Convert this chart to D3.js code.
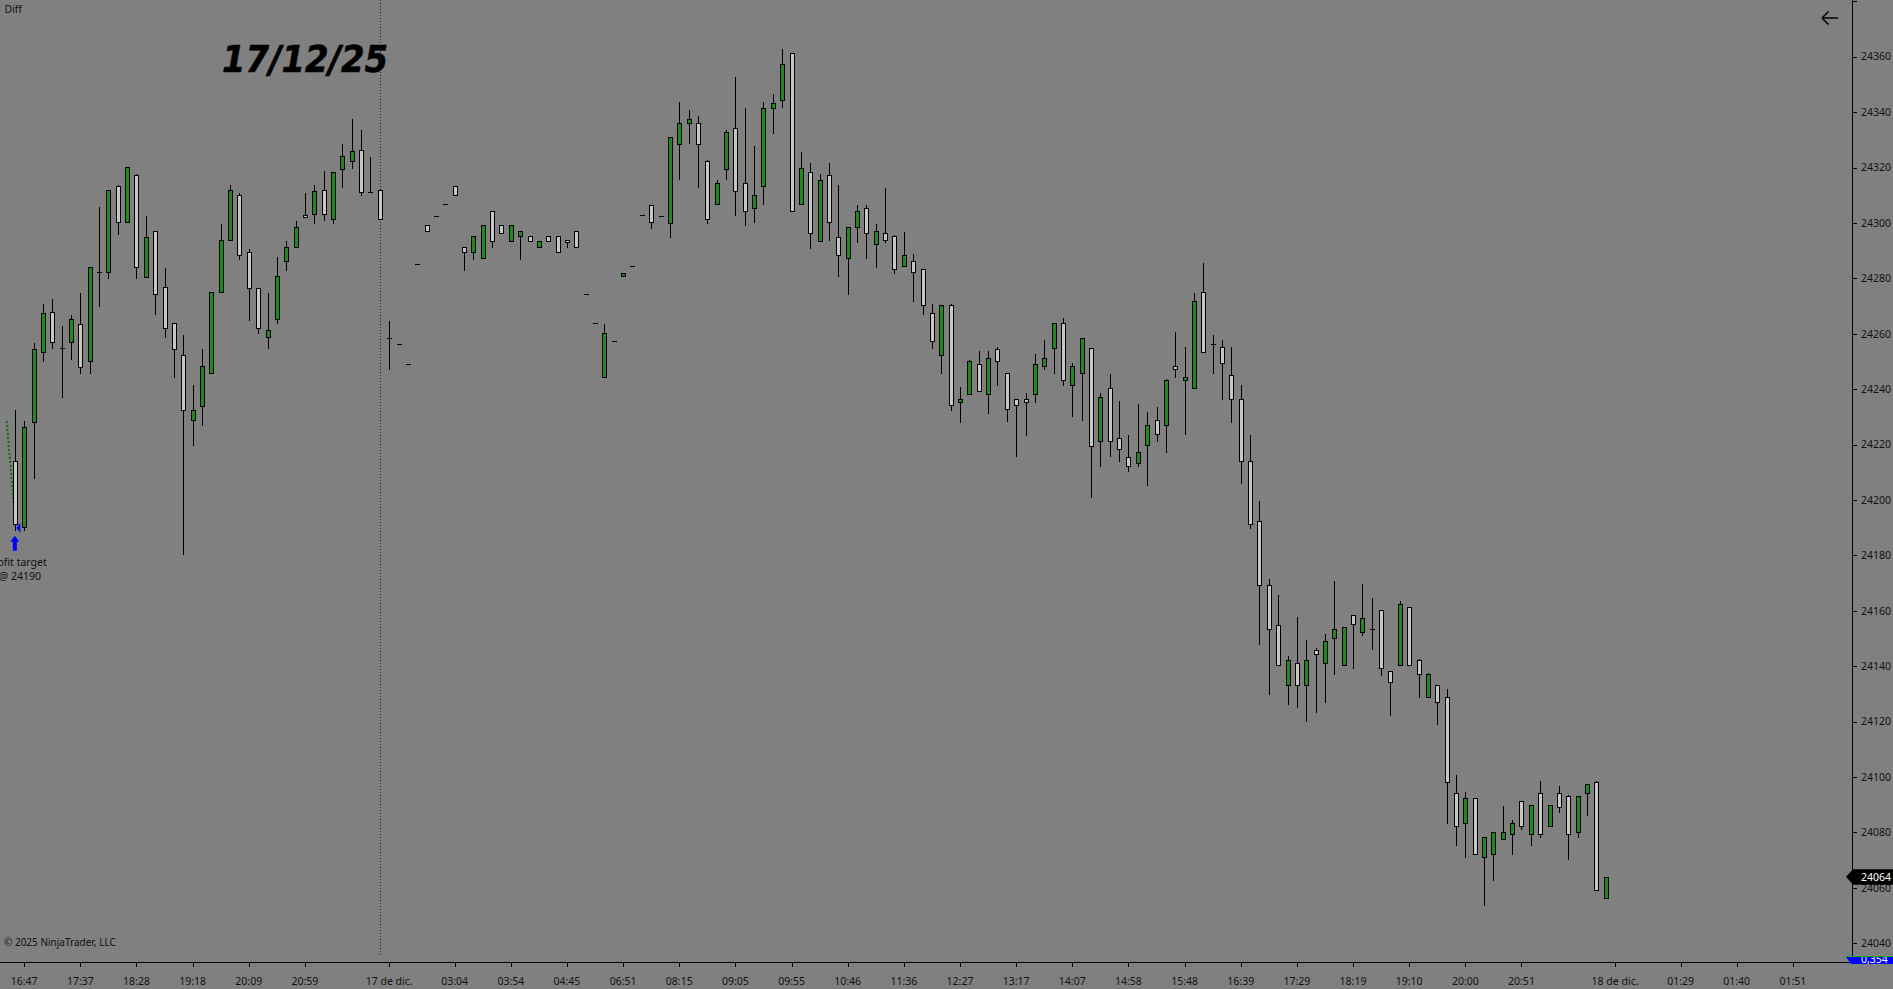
<!DOCTYPE html>
<html>
<head>
<meta charset="utf-8">
<script src="https://cdn.jsdelivr.net/npm/d3@7"></script>
<style>
html, body { margin: 0; padding: 0; background: #808080; overflow: hidden; }
svg { display: block; font-family: "Noto Sans", "Open Sans", sans-serif; }
</style>
</head>
<body>
<svg id="chart"></svg>
<script>
var width = 1893;
var height = 989;

// bar data, one entry per bar (index 0 = first bar on screen)
var opens = [
    24214.25, 24190.25, 24228.25, 24253.25, 24268, 24255, 24257, 24263.5, 24250, 24282.25,
    24282.25, 24313.25, 24300.25, 24317.25, 24280.5, 24297.25, 24277, 24264, 24252.25, 24229,
    24234, 24246, 24275.25, 24294, 24310.25, 24289.5, 24276.5, 24259, 24265.25, 24286.25,
    24291.25, 24303, 24303.25, 24312, 24301.25, 24319.5, 24322.25, 24326.25, 24311.25, 24312,
    24258.5, 24256.25, 24249.25, 24285, 24299.25, 24302.5, 24307, 24313.25, 24291.25, 24289.5,
    24287.25, 24304.25, 24299.25, 24293.5, 24295.25, 24295.25, 24291.25, 24295.25, 24295.25, 24294,
    24297.25, 24274.25, 24264, 24244.25, 24257.25, 24281, 24284.5, 24303, 24306.5, 24302.5,
    24300, 24328.5, 24336.25, 24336.25, 24322.25, 24307, 24319.5, 24334.25, 24314.25, 24305.25,
    24313.25, 24341.5, 24344.25, 24361.25, 24307, 24318.25, 24293.5, 24317.25, 24295, 24287.25,
    24298.5, 24305.25, 24292.25, 24296.25, 24295.25, 24284.5, 24286.25, 24283.25, 24267.5, 24252.25,
    24270.25, 24235.25, 24238.25, 24249.25, 24238.25, 24254.5, 24246, 24236.5, 24236.5, 24238.25,
    24248.25, 24255, 24264, 24241.5, 24246, 24255, 24221.25, 24240.25, 24222.25, 24215.5,
    24213.25, 24220, 24229, 24227.25, 24248.25, 24243.25, 24240.25, 24275.25, 24256.25, 24255.25,
    24245.25, 24236.5, 24214.25, 24192.25, 24169.25, 24155, 24133.25, 24141, 24133.25, 24146,
    24141, 24150.25, 24140.5, 24158.5, 24152.25, 24153.5, 24160.25, 24138.25, 24140.5, 24161.25,
    24142.25, 24129, 24133.25, 24129, 24094.25, 24083.5, 24092.5, 24071.25, 24072.25, 24077.5,
    24079.5, 24091.25, 24079.5, 24094.25, 24082.5, 24094.25, 24093, 24080, 24094.25, 24098.25,
    24056.5
];
var highs = [
    24233, 24228.75, 24257, 24271, 24273, 24263.25, 24267, 24275, 24284.25, 24306,
    24312, 24314, 24320.25, 24318, 24303, 24297.25, 24284, 24264, 24260, 24242,
    24255, 24275.25, 24300, 24314, 24311, 24291, 24276.5, 24275, 24288, 24293.75,
    24301, 24311, 24314, 24319, 24318.25, 24328.75, 24337.75, 24334, 24324, 24312.5,
    24265, 24256.25, 24249.25, 24285, 24299.25, 24302.5, 24307, 24313.25, 24291.25, 24295.25,
    24299.25, 24304.25, 24299.25, 24299.25, 24297.25, 24295.25, 24293.5, 24295.25, 24295.25, 24294,
    24297.25, 24274.25, 24264, 24263.75, 24257.25, 24282, 24284.5, 24303, 24306.75, 24302.5,
    24331, 24344, 24341, 24339, 24323.25, 24315.75, 24333.75, 24353, 24341.75, 24328,
    24344, 24347, 24363, 24361.75, 24326, 24322, 24318, 24322, 24314, 24298.5,
    24306.75, 24306.75, 24300, 24313, 24296, 24297, 24289.25, 24283.25, 24271, 24270.25,
    24271, 24241, 24250.75, 24254, 24254, 24255.75, 24246, 24236.5, 24239, 24253,
    24258, 24264, 24266, 24249.75, 24258.5, 24255, 24239, 24245.75, 24236, 24223.75,
    24235, 24232, 24233.75, 24244, 24261, 24255.75, 24275, 24285.75, 24259.75, 24258,
    24255.75, 24241.75, 24224, 24200, 24171.75, 24166, 24144, 24158, 24149.75, 24147,
    24152, 24171, 24154.5, 24158.5, 24170, 24165, 24160.25, 24138.25, 24164, 24161.25,
    24143, 24138, 24133.25, 24132.25, 24101.25, 24095, 24092.5, 24078.25, 24080, 24089.75,
    24085, 24091.25, 24090, 24099, 24090, 24097, 24094, 24093, 24098, 24099,
    24064
];
var lows = [
    24189.25, 24189, 24208, 24250, 24255, 24237, 24251, 24246, 24246, 24270,
    24280.25, 24296, 24300.25, 24280.25, 24280.5, 24267.25, 24259, 24244.25, 24180.5, 24220,
    24227, 24246, 24275.25, 24294, 24287, 24265, 24260.25, 24255, 24264, 24283,
    24291.25, 24302.25, 24300, 24301, 24300, 24313, 24320, 24310, 24311.25, 24301.25,
    24247.25, 24256.25, 24249.25, 24285, 24297.25, 24302.5, 24307, 24310.25, 24283, 24287,
    24287.25, 24291.25, 24296.25, 24293.5, 24287, 24293.5, 24291.25, 24293.5, 24289.5, 24291.25,
    24291.25, 24274.25, 24264, 24244.25, 24257.25, 24281, 24284.5, 24303, 24298.25, 24302.5,
    24295, 24316, 24329, 24313, 24300, 24307, 24316, 24303, 24299.25, 24300.25,
    24307, 24332.5, 24342, 24304.25, 24307, 24291, 24293.5, 24294, 24281, 24274.25,
    24293.25, 24287.25, 24284.25, 24293.25, 24282, 24284.5, 24272, 24267.25, 24255, 24246,
    24232.5, 24228.25, 24238.25, 24239.25, 24231.25, 24241.5, 24228.5, 24216, 24223.5, 24235.25,
    24247.25, 24246, 24241.5, 24230.25, 24229, 24201.25, 24212.25, 24216, 24214.25, 24210.5,
    24212.25, 24205.25, 24221.25, 24217.25, 24244.25, 24224, 24240.25, 24253.25, 24246, 24236.5,
    24228.25, 24206.25, 24190, 24148, 24130, 24140.5, 24126.25, 24125.25, 24120.25, 24123.5,
    24127.25, 24137.25, 24140.5, 24139.5, 24151.25, 24146.25, 24137, 24122.25, 24140.5, 24140.5,
    24129, 24129, 24119, 24083.25, 24075.5, 24071.25, 24072.25, 24054, 24063, 24077.5,
    24072.25, 24081.25, 24075.5, 24078.25, 24082.5, 24087.25, 24070.5, 24078.25, 24086.25, 24059.25,
    24056.5
];
var closes = [
    24191.25, 24226.5, 24254.5, 24267.5, 24257, 24255, 24265.25, 24248, 24284.25, 24282.25,
    24312, 24300.25, 24320.25, 24284.25, 24295, 24274.25, 24262.25, 24254.5, 24232.5, 24232.5,
    24248.25, 24275.25, 24294, 24312, 24288.25, 24276.5, 24262.25, 24261.25, 24281, 24291.25,
    24298.5, 24302.25, 24311.5, 24303.25, 24318.25, 24324.25, 24326, 24311.25, 24311.25, 24301.25,
    24258.5, 24256.25, 24249.25, 24285, 24297.25, 24302.5, 24307, 24310.25, 24289.5, 24295.25,
    24299.25, 24293.5, 24296.25, 24299.25, 24297.25, 24293.5, 24293.5, 24293.5, 24289.5, 24293.25,
    24291.25, 24274.25, 24264, 24260.25, 24257.25, 24282, 24284.5, 24303, 24300.25, 24302.5,
    24331, 24336.25, 24337.5, 24328.5, 24301.25, 24314.25, 24333, 24311.5, 24304.25, 24310.25,
    24341.5, 24343.25, 24357.5, 24304.25, 24320, 24296.25, 24315.5, 24300.25, 24288.25, 24298.5,
    24304.25, 24296.25, 24297.25, 24294, 24283.25, 24288.25, 24282.25, 24270.25, 24257.25, 24270.25,
    24234.25, 24236.5, 24250, 24239.25, 24251.25, 24250, 24233, 24234.25, 24235.25, 24249.25,
    24251.25, 24264, 24243.25, 24248.25, 24258.5, 24219.5, 24237, 24221.25, 24218.25, 24212.25,
    24217.25, 24227.25, 24224, 24243.25, 24247.25, 24244.25, 24272, 24253.25, 24256.25, 24249.5,
    24236.5, 24214.25, 24191.25, 24169.25, 24153.5, 24140.5, 24142.25, 24133.25, 24142.25, 24144.25,
    24149.25, 24153.5, 24154, 24155.25, 24157.25, 24153.5, 24139.25, 24134.25, 24162.5, 24140.5,
    24137.25, 24137.25, 24127.25, 24098.25, 24082.25, 24092.5, 24072.25, 24078.25, 24080, 24080,
    24083.5, 24082.5, 24090, 24079.5, 24090, 24089.25, 24079.5, 24093, 24097.5, 24059.25,
    24064
];

// time axis labels sit on bar slots (future slots included)
var timeTickIndex = [1, 7, 13, 19, 25, 31, 40, 47, 53, 59, 65, 71, 77, 83, 89, 95, 101, 107,
    113, 119, 125, 131, 137, 143, 149, 155, 161, 171, 178, 184, 190];
var timeTickLabels = ["16:47", "17:37", "18:28", "19:18", "20:09", "20:59", "17 de dic.", "03:04",
    "03:54", "04:45", "06:51", "08:15", "09:05", "09:55", "10:46", "11:36", "12:27", "13:17",
    "14:07", "14:58", "15:48", "16:39", "17:29", "18:19", "19:10", "20:00", "20:51",
    "18 de dic.", "01:29", "01:40", "01:51"];

var priceTicks = [24040, 24060, 24080, 24100, 24120, 24140, 24160, 24180, 24200, 24220,
    24240, 24260, 24280, 24300, 24320, 24340, 24360];

var sessionBreakIndex = 39;
var lastPrice = 24064;
var profitTarget = 24190;
var tradeLine = [{ i: -0.87, p: 24228.5 }, { i: 0.05, p: 24192 }];

var upColor = "#1f8b1f";
var downColor = "#c6c6c6";

var svg = d3.select("#chart")
    .attr("width", width)
    .attr("height", height);

var plotRight = 1852;
var axisY = 962;

var x = d3.scaleLinear()
    .domain([0, 190])
    .range([14.84, 14.84 + 190 * 9.358]);

var y = d3.scaleLinear()
    .domain([24040, 24360])
    .range([943.3, 56.7]);

function px(i) {
    return Math.round(x(i));
}
function py(v) {
    return Math.round(y(v)) + 0.5;
}

svg.append("rect")
    .attr("width", width)
    .attr("height", height)
    .attr("fill", "#808080");

// texts on the chart panel
svg.append("text")
    .attr("x", 4.5)
    .attr("y", 13)
    .attr("font-size", "10.5px")
    .attr("fill", "#111")
    .text("Diff");

svg.append("text")
    .attr("x", 222)
    .attr("y", 71.5)
    .attr("font-family", "DejaVu Sans, sans-serif")
    .attr("font-size", "37px")
    .attr("font-weight", "bold")
    .attr("font-style", "italic")
    .attr("textLength", 166)
    .attr("lengthAdjust", "spacingAndGlyphs")
    .attr("fill", "#000")
    .attr("stroke", "#000")
    .attr("stroke-width", 0.6)
    .text("17/12/25");

svg.append("text")
    .attr("x", 4)
    .attr("y", 946)
    .attr("font-size", "10px")
    .attr("fill", "#111")
    .text("\u00a9 2025 NinjaTrader, LLC");

// session break
svg.append("line")
    .attr("x1", px(sessionBreakIndex) + 0.5)
    .attr("x2", px(sessionBreakIndex) + 0.5)
    .attr("y1", 0)
    .attr("y2", 955)
    .attr("stroke", "#222")
    .attr("stroke-width", 1)
    .attr("stroke-dasharray", "1,2");

// trade line
svg.append("line")
    .attr("x1", x(tradeLine[0].i))
    .attr("y1", y(tradeLine[0].p))
    .attr("x2", x(tradeLine[1].i))
    .attr("y2", y(tradeLine[1].p))
    .attr("stroke", "#0b6f0b")
    .attr("stroke-width", 2)
    .attr("stroke-dasharray", "2,2");

// candles
var bars = d3.range(opens.length).map(function (i) {
    return { i: i, o: opens[i], h: highs[i], l: lows[i], c: closes[i] };
});

var g = svg.append("g").attr("shape-rendering", "crispEdges");

g.selectAll("line.wick")
    .data(bars.filter(function (d) { return d.h > d.l; }))
    .enter()
    .append("line")
    .attr("class", "wick")
    .attr("x1", function (d) { return px(d.i) + 0.5; })
    .attr("x2", function (d) { return px(d.i) + 0.5; })
    .attr("y1", function (d) { return py(d.h); })
    .attr("y2", function (d) { return py(d.l); })
    .attr("stroke", "#000");

var bodies = bars.filter(function (d) {
    return Math.abs(y(d.o) - y(d.c)) >= 1.5;
});
var flats = bars.filter(function (d) {
    return Math.abs(y(d.o) - y(d.c)) < 1.5;
});

g.selectAll("rect.body")
    .data(bodies)
    .enter()
    .append("rect")
    .attr("class", "body")
    .attr("x", function (d) { return px(d.i) - 1.5; })
    .attr("width", 4)
    .attr("y", function (d) { return py(Math.max(d.o, d.c)); })
    .attr("height", function (d) { return py(Math.min(d.o, d.c)) - py(Math.max(d.o, d.c)); })
    .attr("fill", function (d) { return d.c > d.o ? upColor : downColor; })
    .attr("stroke", "#000");

g.selectAll("line.flat")
    .data(flats)
    .enter()
    .append("line")
    .attr("class", "flat")
    .attr("x1", function (d) { return px(d.i) - 2; })
    .attr("x2", function (d) { return px(d.i) + 3; })
    .attr("y1", function (d) { return py((d.o + d.c) / 2); })
    .attr("y2", function (d) { return py((d.o + d.c) / 2); })
    .attr("stroke", "#000");

// exit marker and profit target arrow
var ex = x(0);
var ey = y(profitTarget);
svg.append("path")
    .attr("d", "M" + (ex + 1.5) + "," + ey + "L" + (ex + 5.5) + "," + (ey - 5) + "L" + (ex + 5.5) + "," + (ey + 5) + "Z")
    .attr("fill", "#0000ff");

svg.append("path")
    .attr("d", "M" + ex + "," + (ey + 8) +
        "L" + (ex + 4.5) + "," + (ey + 14) +
        "L" + (ex + 2) + "," + (ey + 14) +
        "L" + (ex + 2) + "," + (ey + 23) +
        "L" + (ex - 2) + "," + (ey + 23) +
        "L" + (ex - 2) + "," + (ey + 14) +
        "L" + (ex - 4.5) + "," + (ey + 14) + "Z")
    .attr("fill", "#0000ff");

svg.append("text")
    .attr("x", ex + 2)
    .attr("y", ey + 38)
    .attr("text-anchor", "middle")
    .attr("font-size", "10.5px")
    .attr("fill", "#111")
    .text("Profit target");

svg.append("text")
    .attr("x", ex + 5)
    .attr("y", ey + 52)
    .attr("text-anchor", "middle")
    .attr("font-size", "10.5px")
    .attr("fill", "#111")
    .text("@ " + profitTarget);

// price axis
var axisG = svg.append("g");
axisG.append("line")
    .attr("x1", plotRight + 0.5)
    .attr("x2", plotRight + 0.5)
    .attr("y1", 0)
    .attr("y2", axisY)
    .attr("stroke", "#000");

var allPriceTicks = priceTicks.concat([24380]);
axisG.selectAll("line.ptick")
    .data(allPriceTicks)
    .enter()
    .append("line")
    .attr("class", "ptick")
    .attr("x1", plotRight)
    .attr("x2", plotRight + 5)
    .attr("y1", function (d) { return py(d); })
    .attr("y2", function (d) { return py(d); })
    .attr("stroke", "#000")
    .attr("shape-rendering", "crispEdges");

axisG.selectAll("text.plabel")
    .data(priceTicks)
    .enter()
    .append("text")
    .attr("class", "plabel")
    .attr("x", 1861)
    .attr("y", function (d) { return y(d); })
    .attr("dy", "0.36em")
    .attr("font-size", "10.5px")
    .attr("fill", "#111")
    .text(function (d) { return d; });

// last price marker
var ly = y(lastPrice);
svg.append("path")
    .attr("d", "M1846," + ly + "L1853," + (ly - 7.5) + "L1893," + (ly - 7.5) + "L1893," + (ly + 8) + "L1853," + (ly + 8) + "Z")
    .attr("fill", "#000");
svg.append("text")
    .attr("x", 1861)
    .attr("y", ly)
    .attr("dy", "0.38em")
    .attr("font-size", "10.5px")
    .attr("fill", "#fff")
    .text(lastPrice);

// time axis
svg.append("line")
    .attr("x1", 0)
    .attr("x2", plotRight + 1)
    .attr("y1", axisY + 0.5)
    .attr("y2", axisY + 0.5)
    .attr("stroke", "#000");

svg.selectAll("line.ttick")
    .data(timeTickIndex)
    .enter()
    .append("line")
    .attr("class", "ttick")
    .attr("x1", function (d) { return px(d) + 0.5; })
    .attr("x2", function (d) { return px(d) + 0.5; })
    .attr("y1", axisY)
    .attr("y2", axisY + 5)
    .attr("stroke", "#000")
    .attr("shape-rendering", "crispEdges");

svg.selectAll("text.tlabel")
    .data(timeTickIndex)
    .enter()
    .append("text")
    .attr("class", "tlabel")
    .attr("x", function (d) { return x(d); })
    .attr("y", 984.5)
    .attr("text-anchor", "middle")
    .attr("font-size", "10.5px")
    .attr("fill", "#111")
    .text(function (d, k) { return timeTickLabels[k]; });

// bottom right indicator box
var defs = svg.append("defs");
defs.append("clipPath")
    .attr("id", "boxClip")
    .append("path")
    .attr("d", "M1846,957L1893,957L1893,964L1851,964Z");

svg.append("path")
    .attr("d", "M1846,957L1893,957L1893,964L1851,964Z")
    .attr("fill", "#0000ff");
svg.append("text")
    .attr("x", 1861)
    .attr("y", 962.5)
    .attr("font-size", "10.5px")
    .attr("fill", "#fff")
    .attr("clip-path", "url(#boxClip)")
    .text("0,354");
svg.append("line")
    .attr("x1", 1846)
    .attr("x2", 1893)
    .attr("y1", 956.5)
    .attr("y2", 956.5)
    .attr("stroke", "#10b010");

// back arrow top right
svg.append("path")
    .attr("d", "M1822,18H1838M1822,18L1828.5,11.5M1822,18L1828.5,24.5")
    .attr("fill", "none")
    .attr("stroke", "#000")
    .attr("stroke-width", 1.5);
</script>
</body>
</html>
